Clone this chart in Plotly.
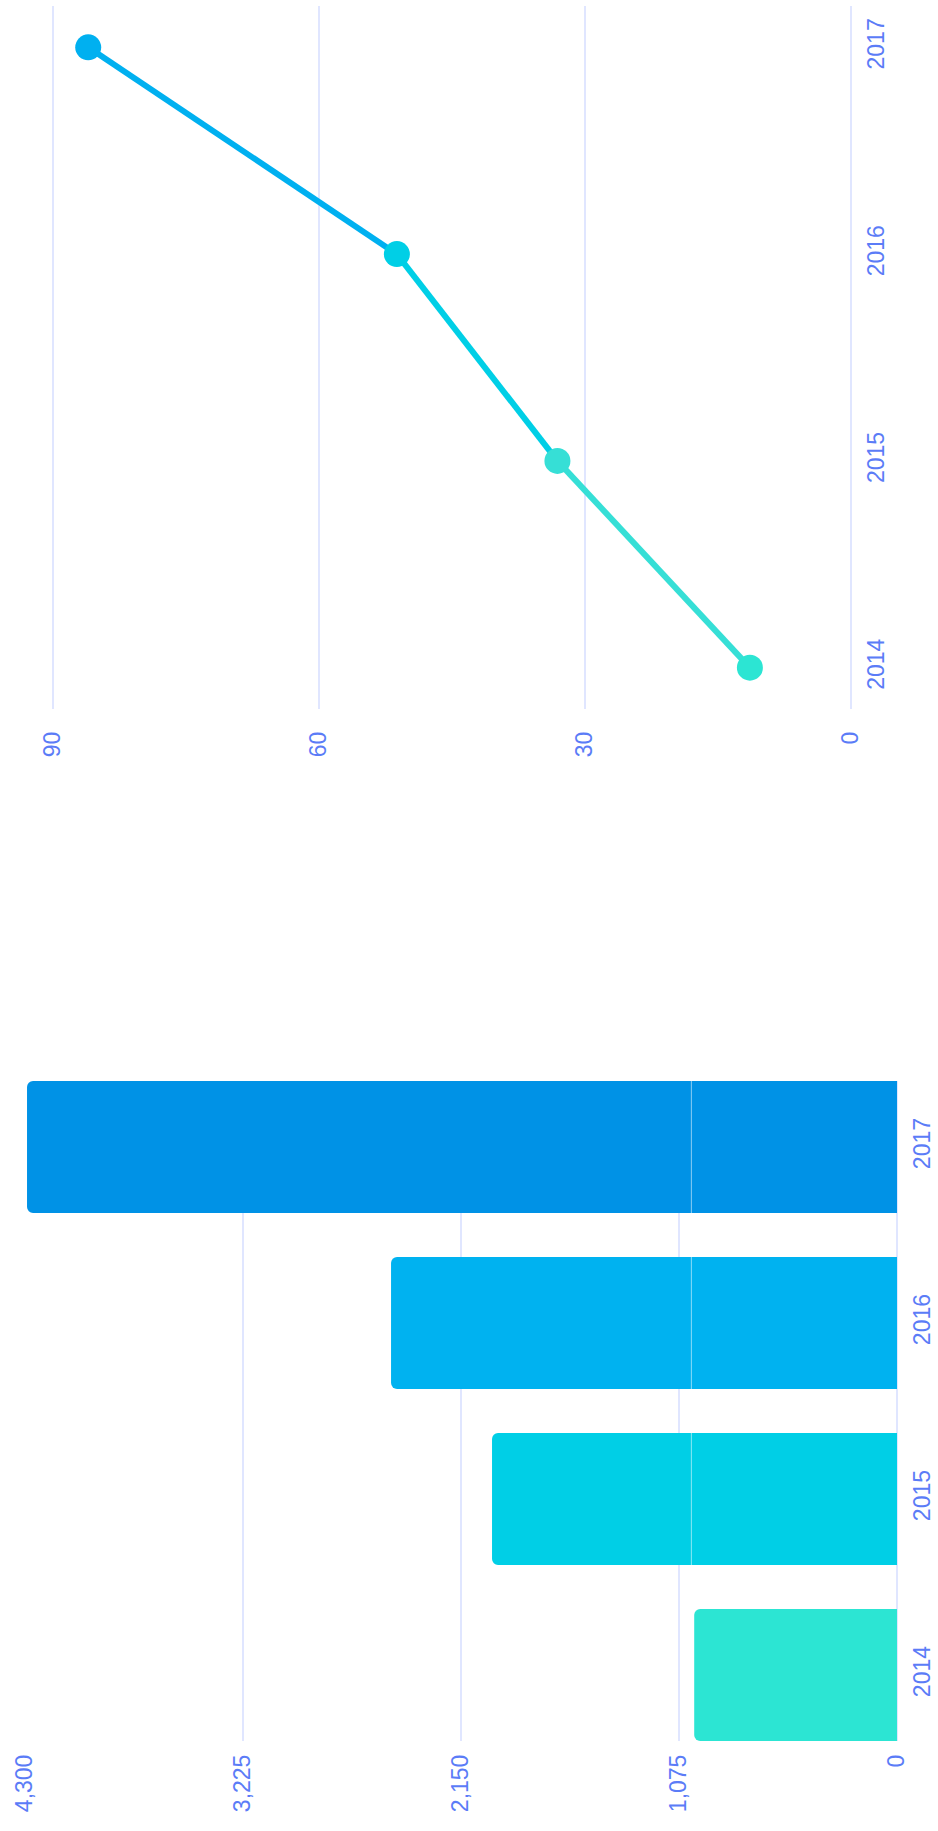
import plotly.graph_objects as go

years = ["2014", "2015", "2016", "2017"]
bar_values = [1000, 1997, 2495, 4290]
line_values = [11.4, 33.1, 51.2, 86.0]
bar_colors = ["#2ce5d3", "#00cfe6", "#00b2f0", "#0092e6"]
point_colors = ["#2ce5d3", "#36dfd6", "#00cfe6", "#00b0f0"]
value_ticks_bar = [0, 1075, 2150, 3225, 4300]
value_ticks_line = [0, 30, 60, 90]
marker_line_value = 1014

W, H = 938, 1831
tick_font = dict(family="Liberation Sans, Arial, sans-serif", size=23, color="#5b7cf7")
grid = "#e0e6ff"

fig = go.Figure()

# line chart segments (each segment coloured like its end point)
for i in range(len(years) - 1):
    fig.add_trace(go.Scatter(
        x=line_values[i:i + 2], y=years[i:i + 2], mode="lines",
        line=dict(color=point_colors[i + 1], width=6),
        xaxis="x", yaxis="y", showlegend=False, hoverinfo="skip"))
fig.add_trace(go.Scatter(
    x=line_values, y=years, mode="markers",
    marker=dict(color=point_colors, size=26),
    xaxis="x", yaxis="y", showlegend=False))

# bar chart
fig.add_trace(go.Bar(
    x=bar_values, y=years, orientation="h",
    marker=dict(color=bar_colors, line=dict(width=0)),
    width=0.75, xaxis="x2", yaxis="y2", showlegend=False))

fig.add_shape(type="line", xref="x2", yref="y2 domain",
              x0=marker_line_value, x1=marker_line_value, y0=0, y1=1,
              line=dict(color="rgba(255,255,255,0.55)", width=1), layer="above")

def px_dom(a, b, total):
    return [a / total, b / total]

fig.update_layout(
    width=W, height=H, margin=dict(l=0, r=0, t=0, b=0, pad=0, autoexpand=False),
    paper_bgcolor="white", plot_bgcolor="white",
    barcornerradius=6,
    xaxis=dict(domain=px_dom(48.3, 851, W), range=[90.5, 0], automargin=False,
               tickvals=value_ticks_line, tickangle=-90, tickfont=tick_font,
               showgrid=True, gridcolor=grid, gridwidth=2,
               zeroline=True, zerolinecolor=grid, zerolinewidth=2,
               showline=False, ticks="", ticklabelstandoff=17, anchor="y"),
    yaxis=dict(domain=[1 - 709 / H, 1 - 6 / H], range=[-0.2, 3.2], automargin=False,
               type="category", side="right", tickangle=-90, tickfont=tick_font,
               showgrid=False, zeroline=False, showline=False, ticks="",
               ticklabelstandoff=9, anchor="x"),
    xaxis2=dict(domain=px_dom(25, 897, W), range=[4300, 0], automargin=False,
                tickvals=value_ticks_bar, tickformat=",d", tickangle=-90, tickfont=tick_font,
                showgrid=True, gridcolor=grid, gridwidth=2,
                zeroline=True, zerolinecolor=grid, zerolinewidth=2,
                showline=False, ticks="", ticklabelstandoff=8, anchor="y2"),
    yaxis2=dict(domain=[1 - 1741 / H, 1 - 1081 / H], range=[-0.375, 3.375], automargin=False,
                type="category", side="right", tickangle=-90, tickfont=tick_font,
                showgrid=False, zeroline=False, showline=False, ticks="",
                ticklabelstandoff=9, anchor="x2"),
)

fig.write_html("out.html")
